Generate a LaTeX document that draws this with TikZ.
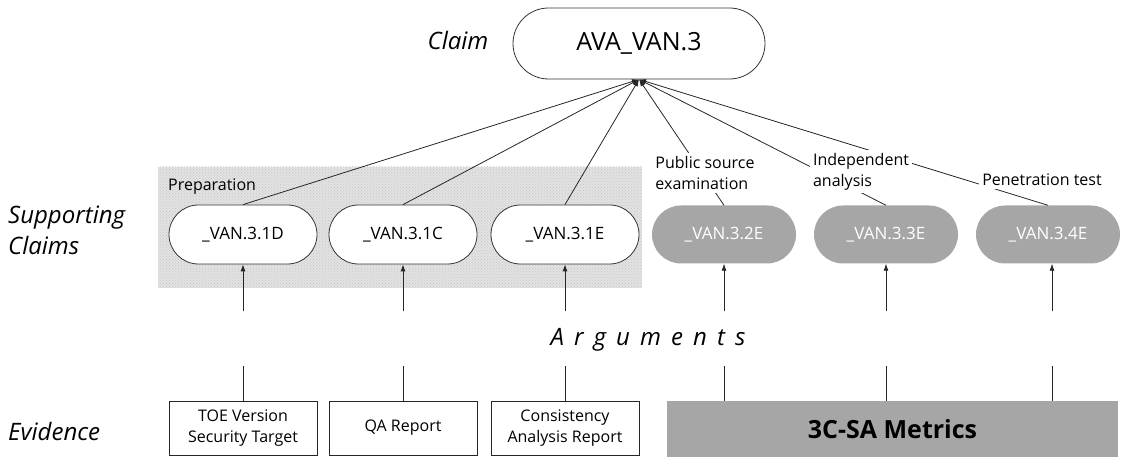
\documentclass[tikz,border=0pt]{standalone}
\usepackage{fontspec}
\setmainfont{Open Sans}
\usetikzlibrary{shapes.misc,arrows.meta,patterns}
\definecolor{grayfill}{RGB}{166,166,166}
\definecolor{prepfill}{RGB}{226,226,226}
\begin{document}
\begin{tikzpicture}[x=1pt,y=-1pt,
  sclaim/.style={rounded rectangle, draw=black!80, line width=0.8pt, fill=white,
    minimum width=148pt, minimum height=59pt, inner sep=0pt,
    font=\fontsize{17}{20}\selectfont},
  gclaim/.style={rounded rectangle, fill=grayfill, text=white,
    minimum width=144pt, minimum height=58pt, inner sep=0pt,
    font=\fontsize{17}{20}\selectfont},
  evbox/.style={draw=black!85, line width=0.8pt, fill=white, align=center,
    minimum width=148pt, minimum height=54pt, inner sep=0pt,
    font=\fontsize{16}{21}\selectfont},
  side/.style={font=\fontsize{24}{31}\selectfont\itshape, align=left, inner sep=0pt},
  tag/.style={fill=white, align=left, inner sep=3pt, font=\fontsize{16}{21}\selectfont},
  link/.style={draw=black!85, line width=0.8pt},
  arr/.style={link, -{Latex[length=7pt,width=5pt]}}
]
\useasboundingbox (0,0) rectangle (1124,462);

% preparation region
\fill[prepfill] (158,167) rectangle (642,288);
\fill[pattern=crosshatch dots, pattern color=gray!45] (158,167) rectangle (642,288);
\node[anchor=west, inner sep=0pt, font=\fontsize{16}{20}\selectfont] (prep) at (168,187) {Preparation};

% claim
\node[rounded rectangle, draw=black!80, line width=0.8pt, fill=white,
  minimum width=252pt, minimum height=71pt, inner sep=0pt,
  font=\fontsize{25}{30}\selectfont] (claim) at (639,43.5) {AVA\_VAN.3};
\node[side] (claimlbl) at (458,41) {Claim};

% supporting claims
\node[sclaim] (s1) at (243,234.5) {\_VAN.3.1D};
\node[sclaim] (s2) at (403,234.5) {\_VAN.3.1C};
\node[sclaim] (s3) at (565,234.5) {\_VAN.3.1E};
\node[gclaim] (s4) at (724,234.5) {\_VAN.3.2E};
\node[gclaim] (s5) at (886,234.5) {\_VAN.3.3E};
\node[gclaim] (s6) at (1048,234.5) {\_VAN.3.4E};
\node[side, anchor=west] (suplbl) at (8,230) {Supporting\\Claims};

% links to claim
\foreach \s in {s1,s2,s3,s4,s5,s6}
  \draw[arr] (\s.north) -- (claim.south);

% tags over the links
\node[tag] (t4) at (705,173) {Public source\\examination};
\node[tag] (t5) at (861,172) {Independent\\analysis};
\node[tag] (t6) at (1042,180) {Penetration test};

% arguments
\node[inner sep=0pt, font=\fontsize{24}{28}\selectfont\itshape\addfontfeature{LetterSpace=42}] (argl) at (648,340) {Arguments};

% evidence
\node[evbox] (e1) at (243,428) {TOE Version\\Security Target};
\node[evbox] (e2) at (403,428) {QA Report};
\node[evbox] (e3) at (565,428) {Consistency\\Analysis Report};
\node[fill=grayfill, minimum width=451pt, minimum height=56pt, inner sep=0pt,
  font=\fontsize{25}{30}\selectfont\bfseries] (metrics) at (892.5,429) {3C-SA Metrics};
\node[side, anchor=west] (evlbl) at (8,431) {Evidence};

% argument arrows and evidence lines
\foreach \i/\x in {1/243,2/403,3/565,4/724,5/886,6/1052} {
  \coordinate (b\i) at (\x,311);
  \coordinate (u\i) at (\x,366);
}
\draw[arr] (b1) -- (s1.south);
\draw[arr] (b2) -- (s2.south);
\draw[arr] (b3) -- (s3.south);
\draw[arr] (b4) -- (s4.south);
\draw[arr] (b5) -- (s5.south);
\draw[arr] (b6) -- (s6.south -| b6);
\draw[link] (u1) -- (e1.north);
\draw[link] (u2) -- (e2.north);
\draw[link] (u3) -- (e3.north);
\draw[link] (u4) -- (metrics.north -| u4);
\draw[link] (u5) -- (metrics.north -| u5);
\draw[link] (u6) -- (metrics.north -| u6);
\end{tikzpicture}
\end{document}
